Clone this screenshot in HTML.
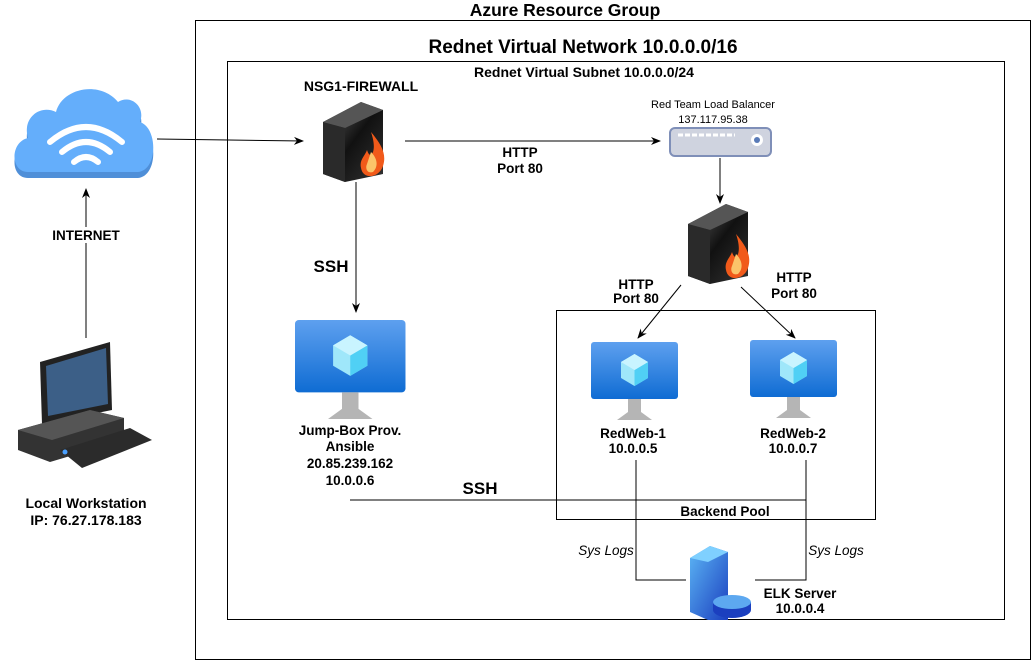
<!DOCTYPE html>
<html><head><meta charset="utf-8"><style>
html,body{margin:0;padding:0;background:#fff;width:1036px;height:661px;overflow:hidden}
text{font-family:"Liberation Sans",Arial,sans-serif;fill:#000}
.b{font-weight:bold}
</style></head><body>
<svg width="1036" height="661" viewBox="0 0 1036 661" xmlns="http://www.w3.org/2000/svg">
<defs>
<marker id="ar" markerWidth="10" markerHeight="10" refX="9" refY="5" orient="auto" markerUnits="userSpaceOnUse">
<path d="M0,1 L10,5 L0,9 L3,5 Z" fill="#000"/></marker>
<linearGradient id="vm" x1="0" y1="0" x2="0" y2="1"><stop offset="0" stop-color="#5ea0ef"/><stop offset="1" stop-color="#0f6cd3"/></linearGradient>
<linearGradient id="fw" x1="0" y1="0" x2="1" y2="1"><stop offset="0" stop-color="#666"/><stop offset="0.5" stop-color="#111"/><stop offset="1" stop-color="#333"/></linearGradient>
<linearGradient id="srv" x1="0" y1="0" x2="1" y2="1"><stop offset="0" stop-color="#5cb6f5"/><stop offset="1" stop-color="#1b3fbf"/></linearGradient>
<g id="vmi">
<rect x="0" y="0" width="87" height="57" rx="3" fill="url(#vm)"/>
<polygon points="43.5,12 57,20 57,36 43.5,44 30,36 30,20" fill="#9fe7fa"/>
<polygon points="43.5,28 57,20 57,36 43.5,44" fill="#50d0f5"/>
<polygon points="43.5,12 57,20 43.5,28 30,20" fill="#c9f4ff"/>
<path d="M37,57 L50,57 L50,70 L61,78 L26,78 L37,70 Z" fill="#b5b5b5"/>
</g>
<g id="fwi">
<polygon points="0,20 38,0 60,8 60,72 22,80 0,72" fill="url(#fw)"/>
<polygon points="0,20 38,0 60,8 22,26" fill="#555"/>
<polygon points="0,20 22,26 22,80 0,72" fill="#2a2a2a"/>
<path d="M48,30 C58,42 64,52 60,64 C56,76 40,78 38,66 C36,58 42,54 44,48 C46,54 48,54 50,50 C52,44 50,36 48,30 Z" fill="#f15a1a"/>
<path d="M48,50 C54,56 56,64 50,70 C44,72 42,66 44,62 Z" fill="#fbc46a"/>
</g>
</defs>

<rect x="195.5" y="20.5" width="835" height="639" fill="none" stroke="#000"/>
<rect x="227.5" y="61.5" width="777" height="558" fill="none" stroke="#000"/>
<rect x="556.5" y="310.5" width="319" height="209" fill="none" stroke="#000"/>

<text x="565" y="16" text-anchor="middle" class="b" font-size="17.5">Azure Resource Group</text>
<text x="583" y="53" text-anchor="middle" class="b" font-size="19">Rednet Virtual Network 10.0.0.0/16</text>
<text x="584" y="77" text-anchor="middle" class="b" font-size="14">Rednet Virtual Subnet 10.0.0.0/24</text>

<!-- cloud -->
<g>
<path d="M28,178 C10,178 10,148 28,144 C22,124 40,110 56,118 C62,94 100,86 118,108 C130,100 146,112 140,128 C158,134 158,176 138,178 Z" fill="#4f8fd8"/>
<path d="M28,172 C10,172 10,142 28,138 C22,118 40,104 56,112 C62,88 100,80 118,102 C130,94 146,106 140,122 C158,128 158,170 138,172 Z" fill="#64aefb"/>
<g fill="none" stroke="#fff" stroke-linecap="round" stroke-width="6">
<path d="M50,142 Q86,112 122,142"/><path d="M62,152 Q86,132 110,152"/><path d="M74,162 Q86,152 98,162"/>
</g>
</g>
<line x1="157" y1="139" x2="303" y2="141" stroke="#000" marker-end="url(#ar)"/>
<text x="361" y="91" text-anchor="middle" class="b" font-size="14">NSG1-FIREWALL</text>
<use href="#fwi" x="323" y="102"/>
<line x1="405" y1="141" x2="660" y2="141" stroke="#000" marker-end="url(#ar)"/>
<text x="520" y="157" text-anchor="middle" class="b" font-size="13.5">HTTP</text>
<text x="520" y="173" text-anchor="middle" class="b" font-size="13.5">Port 80</text>

<!-- LB -->
<text x="713" y="108" text-anchor="middle" font-size="11">Red Team Load Balancer</text>
<text x="713" y="123" text-anchor="middle" font-size="11">137.117.95.38</text>
<rect x="670" y="128" width="101" height="28" rx="5" fill="#cfd3df" stroke="#7f8fb8" stroke-width="2"/>
<line x1="678" y1="135" x2="735" y2="135" stroke="#fff" stroke-width="3" stroke-dasharray="5,2"/>
<circle cx="757" cy="140" r="6" fill="#fff"/><circle cx="757" cy="140" r="3" fill="#5a7bb8"/>
<line x1="720" y1="158" x2="720" y2="203" stroke="#000" marker-end="url(#ar)"/>
<use href="#fwi" x="688" y="204"/>
<line x1="681" y1="285" x2="638" y2="338" stroke="#000" marker-end="url(#ar)"/>
<line x1="741" y1="287" x2="795" y2="338" stroke="#000" marker-end="url(#ar)"/>
<text x="636" y="289" text-anchor="middle" class="b" font-size="13.5">HTTP</text>
<text x="636" y="303" text-anchor="middle" class="b" font-size="13.5">Port 80</text>
<text x="794" y="282" text-anchor="middle" class="b" font-size="13.5">HTTP</text>
<text x="794" y="298" text-anchor="middle" class="b" font-size="13.5">Port 80</text>

<use href="#vmi" x="591" y="342"/>
<use href="#vmi" x="750" y="340"/>
<text x="633" y="438" text-anchor="middle" class="b" font-size="13.5">RedWeb-1</text>
<text x="633" y="453" text-anchor="middle" class="b" font-size="13.5">10.0.0.5</text>
<text x="793" y="438" text-anchor="middle" class="b" font-size="13.5">RedWeb-2</text>
<text x="793" y="453" text-anchor="middle" class="b" font-size="13.5">10.0.0.7</text>
<text x="725" y="516" text-anchor="middle" class="b" font-size="13.5">Backend Pool</text>

<!-- jump box -->
<line x1="356" y1="182" x2="356" y2="312" stroke="#000" marker-end="url(#ar)"/>
<text x="331" y="272" text-anchor="middle" class="b" font-size="17">SSH</text>
<g transform="translate(295,320) scale(1.27)"><use href="#vmi"/></g>
<text x="350" y="435" text-anchor="middle" class="b" font-size="13.5">Jump-Box Prov.</text>
<text x="350" y="451" text-anchor="middle" class="b" font-size="13.5">Ansible</text>
<text x="350" y="468" text-anchor="middle" class="b" font-size="13.5">20.85.239.162</text>
<text x="350" y="485" text-anchor="middle" class="b" font-size="13.5">10.0.0.6</text>
<polyline points="350,500 806,500" fill="none" stroke="#000"/>
<text x="480" y="494" text-anchor="middle" class="b" font-size="17">SSH</text>

<polyline points="636,460 636,580 686,580" fill="none" stroke="#000"/>
<polyline points="806,460 806,580 755,580" fill="none" stroke="#000"/>
<text x="606" y="555" text-anchor="middle" font-style="italic" font-size="13.5">Sys Logs</text>
<text x="836" y="555" text-anchor="middle" font-style="italic" font-size="13.5">Sys Logs</text>
<!-- ELK -->
<polygon points="690,558 710,546 728,552 728,620 708,620 690,612" fill="url(#srv)"/>
<polygon points="690,558 710,546 728,552 708,562" fill="#7fd0ff"/>
<ellipse cx="732" cy="610" rx="19" ry="8" fill="#1b3fbf"/>
<rect x="713" y="602" width="38" height="8" fill="#1b3fbf"/>
<ellipse cx="732" cy="602" rx="19" ry="7" fill="#5da8f0"/>
<text x="800" y="598" text-anchor="middle" class="b" font-size="13.5">ELK Server</text>
<text x="800" y="613" text-anchor="middle" class="b" font-size="13.5">10.0.0.4</text>

<!-- internet -->
<line x1="86" y1="338" x2="86" y2="189" stroke="#000" marker-end="url(#ar)"/>
<rect x="44" y="227" width="84" height="16" fill="#fff"/>
<text x="86" y="240" text-anchor="middle" class="b" font-size="13.5">INTERNET</text>
<!-- workstation -->
<g>
<polygon points="40,362 110,342 112,410 42,424" fill="#222"/>
<polygon points="46,366 106,348 108,404 48,416" fill="#3c5f87"/>
<polygon points="18,430 90,410 124,418 124,440 50,462 18,450" fill="#333"/>
<polygon points="18,430 90,410 124,418 52,440" fill="#555"/>
<polygon points="60,450 130,428 152,440 82,468" fill="#2b2b2b"/>
<circle cx="65" cy="452" r="2.5" fill="#4aa0ff"/>
</g>
<text x="86" y="508" text-anchor="middle" class="b" font-size="14">Local Workstation</text>
<text x="86" y="525" text-anchor="middle" class="b" font-size="14">IP: 76.27.178.183</text>
</svg>
</body></html>
